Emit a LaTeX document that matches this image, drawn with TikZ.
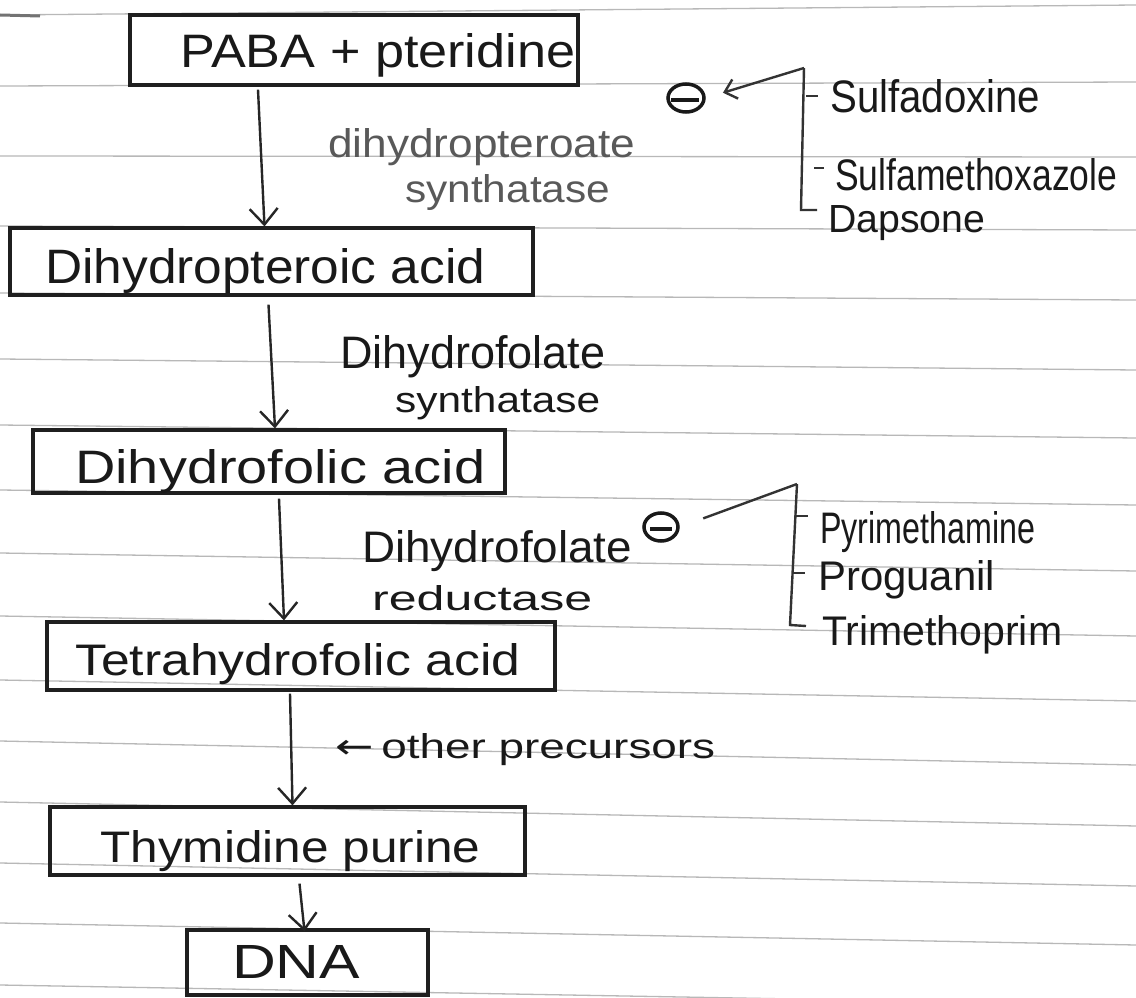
\documentclass[tikz,border=0pt]{standalone}
\usepackage{fontspec}
\setmainfont{Liberation Sans}
\newfontfamily\djv{DejaVu Sans}
\usetikzlibrary{arrows.meta,shapes.geometric}
\newcommand\hw[3]{\resizebox{#1pt}{#2pt}{#3}}
\begin{document}
\begin{tikzpicture}[x=1pt,y=-1pt,
  ink/.style={draw=black!88, line width=3.2pt},
  box/.style={ink, rectangle, inner sep=0pt},
  txt/.style={inner sep=0pt, anchor=base west, text=black!90},
  lighttxt/.style={txt, text=black!65},
  arr/.style={draw=black!85, line width=2.4pt, -{Straight Barb[length=16pt,width=28pt,line width=2.4pt]}},
  thinink/.style={draw=black!80, line width=2.4pt},
  rule/.style={draw=black!28, line width=1.3pt},
  inh/.style={ellipse, draw=black!90, line width=3.5pt, inner sep=0pt}
]
\useasboundingbox (0,0) rectangle (1136,998);
\fill[white] (0,0) rectangle (1136,998);
% ruled paper
\foreach \a/\b in {15/5,86/82,156/157,226/230,293/300,359/370,425/438,490/505,553/571,616/636,680/701,741/765,802/826,863/886,923/945,985/1005}
  \draw[rule] (0,\a) -- (1136,\b);
\draw[draw=black!55, line width=3pt] (0,15) -- (40,16);

% boxes
\node[box, minimum width=448pt, minimum height=70pt] (b1) at (354,50) {};
\node[box, minimum width=523pt, minimum height=67pt] (b2) at (271.5,261.5) {};
\node[box, minimum width=472pt, minimum height=63pt] (b3) at (269,461.5) {};
\node[box, minimum width=508pt, minimum height=68pt] (b4) at (301,656) {};
\node[box, minimum width=475pt, minimum height=68pt] (b5) at (287.5,841) {};
\node[box, minimum width=241pt, minimum height=65pt] (b6) at (307.5,962.5) {};

% box texts
\node[txt] (t1) at (180,68) {\hw{395}{34}{PABA + pteridine}};
\node[txt] (t2) at (45,283) {\hw{440}{35}{Dihydropteroic acid}};
\node[txt] (t3) at (75,483) {\hw{410}{34}{Dihydrofolic acid}};
\node[txt] (t4) at (75,675) {\hw{445}{32}{Tetrahydrofolic acid}};
\node[txt] (t5) at (100,862) {\hw{380}{32}{Thymidine purine}};
\node[txt] (t6) at (232,978) {\hw{128}{33}{DNA}};

% enzyme labels
\node[lighttxt] (e1a) at (328,157) {\hw{307}{29}{dihydropteroate}};
\node[lighttxt] (e1b) at (405,202) {\hw{205}{28}{synthatase}};
\node[txt] (e2a) at (340,368) {\hw{265}{33}{Dihydrofolate}};
\node[txt] (e2b) at (395,412) {\hw{205}{26}{synthatase}};
\node[txt] (e3a) at (362,562) {\hw{270}{32}{Dihydrofolate}};
\node[txt] (e3b) at (372,610) {\hw{220}{25}{reductase}};
\node[txt] (op) at (335,758) {\hw{380}{25}{{\djv ←}\,other precursors}};

% main arrows
\draw[arr] ([xshift=-96pt,yshift=-3pt]b1.south) -- ([xshift=-7pt]b2.north);
\draw[arr] ([xshift=-3pt,yshift=-8pt]b2.south) -- ([xshift=6pt]b3.north);
\draw[arr] ([xshift=10pt,yshift=-4pt]b3.south) -- ([xshift=-17pt]b4.north);
\draw[arr] ([xshift=-11pt,yshift=-2pt]b4.south) -- ([xshift=5pt]b5.north);
\draw[arr] ([xshift=12pt,yshift=-7pt]b5.south) -- ([xshift=-3pt,yshift=-3pt]b6.north);

% inhibitors group 1
\node[inh, minimum width=36pt, minimum height=28pt] (i1) at (686,98) {};
\draw[line width=3.5pt, draw=black!90] ([xshift=-15pt,yshift=-2pt]i1.center) -- ([xshift=13pt,yshift=-2pt]i1.center);
\coordinate (k1) at (804,68);
\coordinate (k1b) at (801,210);
\coordinate (k1c) at (817,210);
\draw[thinink] (k1) -- (k1b) -- (k1c);
\draw[thinink, -{Straight Barb[length=11pt,width=20pt,line width=2.4pt]}, shorten >=18pt] (k1) -- (i1.east);
\coordinate (k1t1) at (806,96);
\coordinate (k1t2) at (814,168);
\draw[thinink] (k1t1) -- ++(12,0);
\draw[thinink] (k1t2) -- ++(10,0);
\node[txt] (s1) at (830,113) {\hw{210}{33}{Sulfadoxine}};
\node[txt] (s2) at (835,190) {\hw{282}{32}{Sulfamethoxazole}};
\node[txt] (s3) at (828,232) {\hw{157}{27}{Dapsone}};

% inhibitors group 2
\node[inh, minimum width=34pt, minimum height=28pt] (i2) at (661,527) {};
\draw[line width=3.5pt, draw=black!90] ([xshift=-11pt,yshift=-2pt]i2.center) -- ([xshift=11pt,yshift=-2pt]i2.center);
\coordinate (k2) at (797,484);
\coordinate (k2b) at (790,625);
\coordinate (k2c) at (806,626);
\draw[thinink] (k2) -- (k2b) -- (k2c);
\draw[thinink, shorten >=25pt] (k2) -- (i2.east);
\coordinate (k2t1) at (796,516);
\coordinate (k2t2) at (793,573);
\draw[thinink] (k2t1) -- ++(12,0);
\draw[thinink] (k2t2) -- ++(12,0);
\node[txt] (p1) at (820,543) {\hw{215}{32}{Pyrimethamine}};
\node[txt] (p2) at (818,590) {\hw{177}{30}{Proguanil}};
\node[txt] (p3) at (822,645) {\hw{240}{30}{Trimethoprim}};
\end{tikzpicture}
\end{document}
